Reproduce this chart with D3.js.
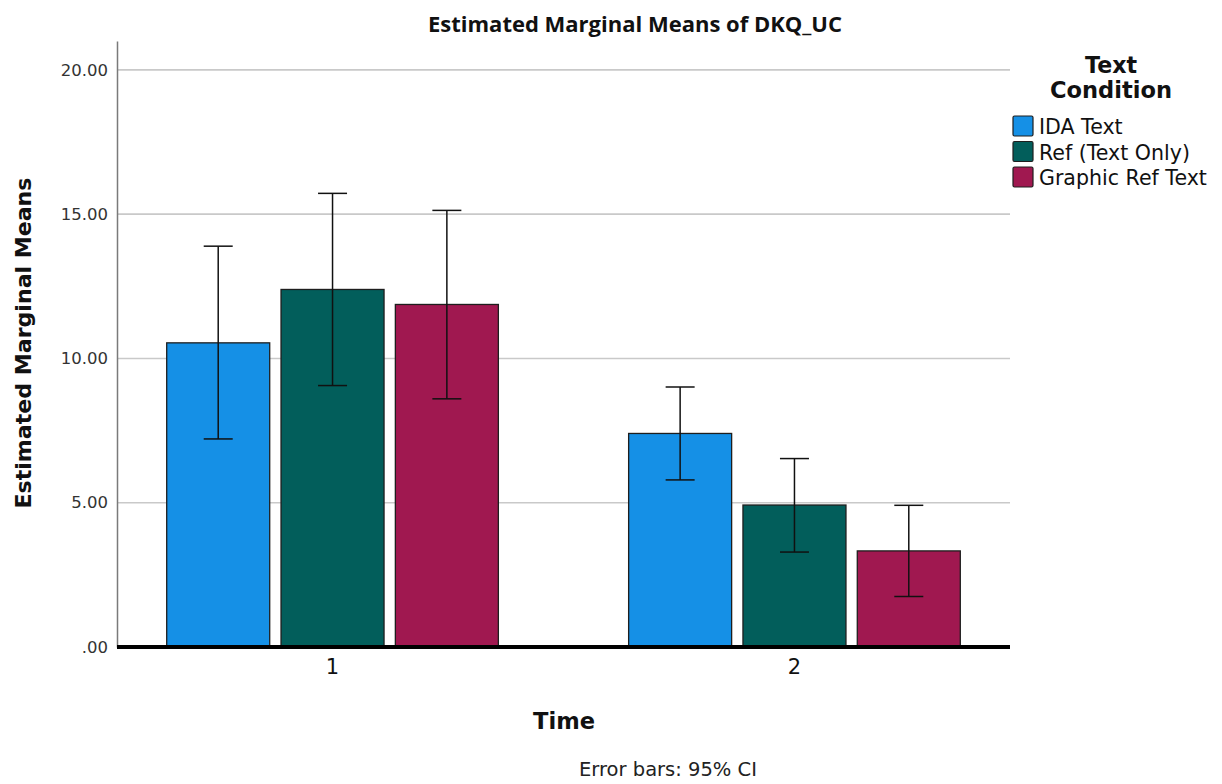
<!DOCTYPE html>
<html>
<head>
<meta charset="utf-8">
<script src="https://cdn.jsdelivr.net/npm/d3@7"></script>
<style>
  html, body { margin: 0; padding: 0; background: #ffffff; }
  svg { display: block; font-family: "DejaVu Sans", "Noto Sans", sans-serif; }
</style>
</head>
<body>
<svg id="chart" width="1222" height="784"></svg>
<script>
// Estimated marginal means of DKQ_UC by Time and Text Condition, with 95% CI
const times = ["1", "2"];
const conditions = ["IDA Text", "Ref (Text Only)", "Graphic Ref Text"];
const colors = ["#1590e6", "#025e5b", "#a01850"];
const means = [
  [10.54, 12.39, 11.87],   // Time 1
  [7.40, 4.92, 3.33]       // Time 2
];
const ciLower = [
  [7.21, 9.06, 8.60],
  [5.79, 3.29, 1.75]
];
const ciUpper = [
  [13.89, 15.72, 15.13],
  [9.01, 6.53, 4.91]
];
const yTicks = [0, 5, 10, 15, 20];

const svg = d3.select("#chart");
const plot = { left: 117, right: 1010, top: 41, bottom: 647 };

const y = d3.scaleLinear().domain([0, 21]).range([plot.bottom, plot.top]);
const x0 = d3.scaleBand().domain(times).range([plot.left, plot.right])
  .paddingInner(0.282).paddingOuter(0.1076);
const x1 = d3.scaleBand().domain(conditions).range([0, x0.bandwidth()])
  .paddingInner(0.099).paddingOuter(0);

// size a text element so that it spans the given width
function fitWidth(sel, width) {
  const node = sel.node();
  const base = parseFloat(sel.attr("font-size"));
  const w = node.getComputedTextLength();
  sel.attr("font-size", (base * width / w).toFixed(2));
  return sel;
}

// gridlines
svg.append("g")
  .selectAll("line")
  .data(yTicks.filter(d => d > 0))
  .join("line")
  .attr("x1", plot.left).attr("x2", plot.right)
  .attr("y1", d => y(d)).attr("y2", d => y(d))
  .attr("stroke", "#c9c9c9").attr("stroke-width", 1.6);

// y axis
const yAxis = svg.append("g")
  .attr("transform", `translate(${plot.left},0)`)
  .call(d3.axisLeft(y).tickValues(yTicks).tickSize(0).tickPadding(9)
    .tickFormat(d => d === 0 ? ".00" : d3.format(".2f")(d)));
yAxis.select(".domain").attr("stroke", "#7a7a7a").attr("stroke-width", 1.5);
yAxis.selectAll("text")
  .attr("font-family", "DejaVu Sans, sans-serif")
  .attr("font-size", 16.5).attr("fill", "#333");

// bars
const groups = svg.append("g")
  .selectAll("g")
  .data(times)
  .join("g")
  .attr("transform", d => `translate(${x0(d)},0)`);

groups.selectAll("rect")
  .data((t, i) => conditions.map((c, j) => ({ c, j, v: means[i][j] })))
  .join("rect")
  .attr("x", d => x1(d.c))
  .attr("y", d => y(d.v))
  .attr("width", x1.bandwidth())
  .attr("height", d => y(0) - y(d.v))
  .attr("fill", d => colors[d.j])
  .attr("stroke", "#1e1e1e").attr("stroke-width", 1.3);

// error bars
const capHalf = 14.5;
const eb = groups.selectAll("g.err")
  .data((t, i) => conditions.map((c, j) => ({ c, lo: ciLower[i][j], hi: ciUpper[i][j] })))
  .join("g").attr("class", "err")
  .attr("transform", d => `translate(${x1(d.c) + x1.bandwidth() / 2},0)`)
  .attr("stroke", "#111").attr("stroke-width", 1.5);
eb.append("line").attr("x1", 0).attr("x2", 0)
  .attr("y1", d => y(d.lo)).attr("y2", d => y(d.hi));
eb.append("line").attr("x1", -capHalf).attr("x2", capHalf)
  .attr("y1", d => y(d.hi)).attr("y2", d => y(d.hi));
eb.append("line").attr("x1", -capHalf).attr("x2", capHalf)
  .attr("y1", d => y(d.lo)).attr("y2", d => y(d.lo));

// x axis
const xAxis = svg.append("g")
  .attr("transform", `translate(0,${plot.bottom})`)
  .call(d3.axisBottom(x0).tickSize(0).tickPadding(12));
xAxis.select(".domain").attr("stroke", "#000").attr("stroke-width", 4)
  .attr("d", `M${plot.left},0H${plot.right}`);
xAxis.selectAll("text")
  .attr("font-family", "DejaVu Sans, sans-serif")
  .attr("font-size", 21).attr("fill", "#111");

// titles
fitWidth(svg.append("text")
  .attr("x", 635).attr("y", 32)
  .attr("text-anchor", "middle")
  .attr("font-family", "Open Sans, sans-serif")
  .attr("font-weight", "bold").attr("font-size", 20).attr("fill", "#111")
  .text("Estimated Marginal Means of DKQ_UC"), 414);

fitWidth(svg.append("text")
  .attr("transform", "translate(31,343) rotate(-90)")
  .attr("text-anchor", "middle")
  .attr("font-weight", "bold").attr("font-size", 22).attr("fill", "#111")
  .text("Estimated Marginal Means"), 331);

fitWidth(svg.append("text")
  .attr("x", 564).attr("y", 729)
  .attr("text-anchor", "middle")
  .attr("font-weight", "bold").attr("font-size", 22).attr("fill", "#111")
  .text("Time"), 62);

fitWidth(svg.append("text")
  .attr("x", 668).attr("y", 776)
  .attr("text-anchor", "middle")
  .attr("font-size", 17).attr("fill", "#222")
  .text("Error bars: 95% CI"), 178);

// legend
const legend = svg.append("g");
fitWidth(legend.append("text")
  .attr("x", 1111).attr("y", 73).attr("text-anchor", "middle")
  .attr("font-weight", "bold").attr("font-size", 22).attr("fill", "#111")
  .text("Text"), 52);
fitWidth(legend.append("text")
  .attr("x", 1111).attr("y", 98).attr("text-anchor", "middle")
  .attr("font-weight", "bold").attr("font-size", 22).attr("fill", "#111")
  .text("Condition"), 122);

const items = legend.selectAll("g.item")
  .data(conditions)
  .join("g").attr("class", "item")
  .attr("transform", (d, i) => `translate(1013,${116 + i * 25.5})`);
items.append("rect")
  .attr("width", 20).attr("height", 20).attr("rx", 1.5)
  .attr("fill", (d, i) => colors[i])
  .attr("stroke", "#1e1e1e").attr("stroke-width", 1.2);
const itemText = items.append("text")
  .attr("x", 26).attr("y", 18)
  .attr("font-size", 18).attr("fill", "#111")
  .text(d => d);
// scale legend labels together from the widest entry
const widest = d3.max(itemText.nodes(), n => n.getComputedTextLength());
itemText.attr("font-size", (18 * 168 / widest).toFixed(2));
</script>
</body>
</html>
